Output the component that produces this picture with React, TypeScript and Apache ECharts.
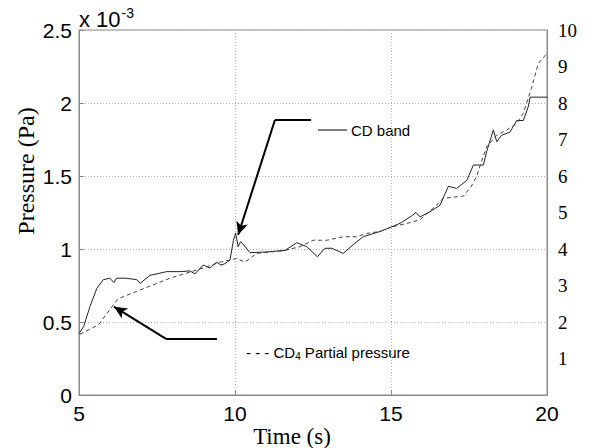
import React, { useEffect, useRef } from "react";
import * as echarts from "echarts";

// Pressure values are in units of 1e-3 Pa
const cdBandTime = [5.0, 5.15, 5.35, 5.57, 5.78, 5.99, 6.12, 6.2, 6.5, 6.85, 6.96, 7.28, 7.5, 7.81, 8.24, 8.56, 8.72, 8.98, 9.2, 9.41, 9.55, 9.68, 9.84, 9.95, 10.02, 10.1, 10.18, 10.27, 10.48, 11.02, 11.6, 11.98, 12.3, 12.64, 12.88, 13.1, 13.47, 13.79, 14.11, 14.65, 15.0, 15.29, 15.66, 15.8, 15.93, 16.25, 16.57, 16.84, 17.1, 17.43, 17.64, 17.96, 18.07, 18.28, 18.39, 18.55, 18.81, 19.03, 19.24, 19.4, 19.46, 20.0];
const cdBandValue = [0.42, 0.47, 0.605, 0.73, 0.79, 0.8, 0.77, 0.8, 0.8, 0.79, 0.765, 0.82, 0.83, 0.845, 0.845, 0.85, 0.83, 0.89, 0.87, 0.91, 0.89, 0.9, 0.925, 1.06, 1.11, 1.016, 1.05, 1.03, 0.975, 0.98, 0.99, 1.043, 1.016, 0.947, 1.005, 1.005, 0.97, 1.03, 1.084, 1.12, 1.15, 1.176, 1.226, 1.25, 1.22, 1.255, 1.3, 1.43, 1.415, 1.47, 1.575, 1.575, 1.67, 1.815, 1.735, 1.78, 1.8, 1.88, 1.88, 1.975, 2.04, 2.04];

const cd4Time = [5.03, 5.62, 6.1, 6.26, 6.85, 7.92, 8.98, 9.52, 10.05, 10.32, 10.7, 11.6, 12.08, 12.51, 12.94, 13.47, 13.9, 14.22, 14.65, 15.0, 15.6, 15.93, 16.46, 16.67, 17.32, 17.55, 17.75, 17.9, 18.07, 18.39, 18.71, 19.03, 19.24, 19.5, 19.72, 20.0];
const cd4Value = [0.416, 0.48, 0.616, 0.66, 0.71, 0.8, 0.87, 0.91, 0.935, 0.91, 0.97, 0.99, 1.016, 1.06, 1.06, 1.084, 1.084, 1.107, 1.12, 1.15, 1.18, 1.2, 1.3, 1.347, 1.363, 1.42, 1.5, 1.6, 1.7, 1.78, 1.815, 1.86, 1.93, 2.1, 2.27, 2.34];

const xTicks = { min: 5, max: 20, interval: 5 };
const leftTicks = { min: 0, max: 2.5, interval: 0.5 };
const rightTicks = { min: 0, max: 10, interval: 1 };

// annotation arrows (data coordinates)
const arrowCD = { elbow: [12.44, 1.884], start: [11.28, 1.884], tip: [10.1, 1.096] };
const arrowCD4 = { elbow: [9.42, 0.384], start: [7.79, 0.384], tip: [6.12, 0.605] };

export default function App() {
  const ref = useRef<HTMLDivElement>(null);
  useEffect(() => {
    const chart = echarts.init(ref.current!, null, { renderer: "svg" });
    const axisColor = "#8a8a8a";
    const sans = "Liberation Sans, Arial, sans-serif";
    const serif = "Liberation Serif, Times New Roman, serif";
    chart.setOption({
      animation: false,
      backgroundColor: "#fff",
      grid: { left: 79, right: 43, top: 30, bottom: 53, show: true, borderColor: axisColor, borderWidth: 1 },
      xAxis: {
        type: "value",
        ...xTicks,
        axisLine: { show: true, lineStyle: { color: axisColor } },
        axisTick: { show: true, inside: true, length: 5, lineStyle: { color: axisColor } },
        axisLabel: { color: "#000", fontFamily: sans, fontSize: 21, margin: 8 },
        splitLine: { show: true, lineStyle: { color: "#b0b0b0", type: [1, 2], width: 1 } },
      },
      yAxis: [
        {
          type: "value",
          ...leftTicks,
          axisLine: { show: true, lineStyle: { color: axisColor } },
          axisTick: { show: true, inside: true, length: 5, lineStyle: { color: axisColor } },
          axisLabel: { color: "#000", fontFamily: sans, fontSize: 21, margin: 7 },
          splitLine: { show: true, lineStyle: { color: "#b0b0b0", type: [1, 2], width: 1 } },
        },
        {
          type: "value",
          ...rightTicks,
          position: "right",
          axisLine: { show: true, lineStyle: { color: axisColor } },
          axisTick: { show: false },
          axisLabel: {
            color: "#000",
            fontFamily: serif,
            fontSize: 19,
            margin: 11,
            formatter: (v: number) => (v === 0 ? "" : String(v)),
          },
          splitLine: { show: false },
        },
      ],
      series: [
        {
          name: "CD band",
          type: "line",
          yAxisIndex: 0,
          showSymbol: false,
          data: cdBandTime.map((t, i) => [t, cdBandValue[i]]),
          lineStyle: { color: "#222", width: 1 },
          markLine: {
            silent: true,
            symbol: ["none", "none"],
            lineStyle: { color: "#000", width: 2, type: "solid" },
            label: { show: false },
            data: [
              [{ coord: arrowCD.elbow, symbol: "none" }, { coord: arrowCD.start, symbol: "none" }],
              [{ coord: arrowCD.start, symbol: "none" }, { coord: arrowCD.tip, symbol: "arrow", symbolSize: [9, 13] }],
            ],
          },
        },
        {
          name: "CD4 Partial pressure",
          type: "line",
          yAxisIndex: 0,
          showSymbol: false,
          data: cd4Time.map((t, i) => [t, cd4Value[i]]),
          lineStyle: { color: "#444", width: 1, type: [4, 3] },
          markLine: {
            silent: true,
            symbol: ["none", "none"],
            lineStyle: { color: "#000", width: 2, type: "solid" },
            label: { show: false },
            data: [
              [{ coord: arrowCD4.elbow, symbol: "none" }, { coord: arrowCD4.start, symbol: "none" }],
              [{ coord: arrowCD4.start, symbol: "none" }, { coord: arrowCD4.tip, symbol: "arrow", symbolSize: [9, 13] }],
            ],
          },
        },
      ],
      graphic: [
        {
          type: "text",
          left: 79,
          top: 6,
          style: {
            text: "{a|x 10}{b|-3}",
            rich: {
              a: { fontFamily: sans, fontSize: 22, fill: "#000", verticalAlign: "bottom" },
              b: { fontFamily: sans, fontSize: 14, fill: "#000", verticalAlign: "top", padding: [0, 0, 10, 1] },
            },
          },
        },
        {
          type: "text",
          x: 26,
          y: 171,
          rotation: Math.PI / 2,
          style: {
            text: "Pressure (Pa)",
            fontFamily: serif,
            fontSize: 24,
            fill: "#000",
            align: "center",
            verticalAlign: "middle",
          },
        },
        {
          type: "text",
          x: 292,
          y: 436,
          style: {
            text: "Time (s)",
            fontFamily: serif,
            fontSize: 23,
            fill: "#000",
            align: "center",
            verticalAlign: "middle",
          },
        },
        {
          type: "line",
          shape: { x1: 318, y1: 130, x2: 347, y2: 130 },
          style: { stroke: "#000", lineWidth: 1 },
        },
        {
          type: "text",
          x: 351,
          y: 130,
          style: { text: "CD band", fontFamily: sans, fontSize: 15, fill: "#000", verticalAlign: "middle" },
        },
        {
          type: "text",
          x: 246,
          y: 352,
          style: {
            text: "{a|- - - CD}{s|4}{a| Partial pressure}",
            verticalAlign: "middle",
            rich: {
              a: { fontFamily: sans, fontSize: 15, fill: "#000" },
              s: { fontFamily: sans, fontSize: 10, fill: "#000", padding: [8, 0, 0, 0] },
            },
          },
        },
      ],
    });
    return () => chart.dispose();
  }, []);
  return (
    <div
      ref={ref}
      style={{ position: "fixed", left: 0, top: 0, width: 590, height: 448, background: "#fff" }}
    />
  );
}
